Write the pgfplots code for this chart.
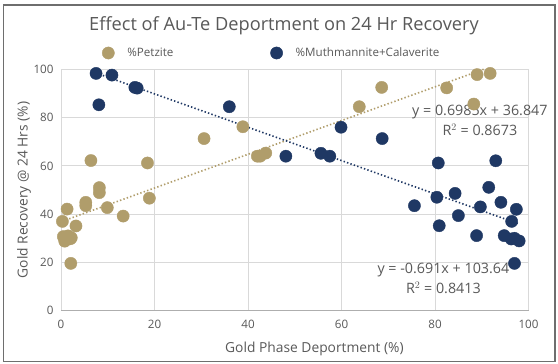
\documentclass[border=0pt]{standalone}
\usepackage{pgfplots}
\pgfplotsset{compat=1.18}
\usepackage{pgfplotstable}
\usepackage{fontspec}
\setmainfont{Open Sans}
\definecolor{tan}{RGB}{176,157,107}
\definecolor{navy}{RGB}{31,56,100}
\definecolor{txt}{RGB}{89,89,89}
\definecolor{grd}{RGB}{217,217,217}
\definecolor{frm}{RGB}{110,110,110}
\pgfplotstableread{
x y
6.4 62.2
18.5 61.2
8.2 51.0
8.2 48.9
5.3 44.9
5.3 43.5
18.9 46.6
9.9 42.7
1.3 42.1
0.3 37.0
3.2 35.1
13.3 39.2
0.5 30.7
1.0 29.5
1.5 31.0
2.0 29.8
0.8 28.8
2.2 30.2
2.1 19.6
30.6 71.3
38.9 76.2
42.0 64.0
42.6 64.0
43.8 65.3
63.8 84.5
68.6 92.5
82.5 92.3
89.0 97.8
91.8 98.3
88.3 85.6
}\petz
\pgfplotstableread{
x y
7.5 98.3
10.9 97.6
8.1 85.3
15.8 92.5
16.3 92.2
36.0 84.5
48.1 64.0
55.6 65.2
57.5 64.0
59.9 76.0
68.7 71.3
80.7 61.2
93.0 62.1
91.5 51.1
84.3 48.6
80.4 47.0
75.6 43.5
89.7 43.0
94.1 44.9
97.4 42.0
85.0 39.4
80.9 35.2
88.9 31.1
94.8 31.1
96.3 29.7
97.0 30.0
98.0 28.9
96.4 37.0
97.0 19.6
}\muth
\begin{document}
\begin{tikzpicture}
\useasboundingbox (0pt,0pt) rectangle (558pt,364pt);
\fill[white] (0pt,0pt) rectangle (558pt,364pt);
\draw[frm,line width=1.5pt] (3.5pt,2.5pt) rectangle (555pt,359pt);
\node[txt,font=\fontsize{18.2}{21}\selectfont] at (284pt,338pt) {Effect of Au-Te Deportment on 24 Hr Recovery};
\begin{axis}[
  at={(61pt,53.3pt)}, anchor=south west,
  scale only axis, width=467.5pt, height=241.4pt,
  xmin=0, xmax=100, ymin=0, ymax=100,
  xtick={0,20,...,100}, ytick={0,20,...,100},
  grid=major, grid style={grd, line width=0.9pt},
  axis lines=left,
  x axis line style={-, draw=grd!80!black, line width=0.9pt},
  y axis line style={draw=none},
  major tick length=0pt,
  clip=false,
  /pgf/number format/assume math mode=true,
  tick label style={txt, font=\fontsize{11.6}{14}\selectfont},
  xticklabel style={yshift=-6pt},
  yticklabel style={xshift=-4pt},
  xlabel={Gold Phase Deportment (\%)},
  ylabel={Gold Recovery @ 24 Hrs (\%)},
  label style={txt, font=\fontsize{13.8}{16}\selectfont},
  xlabel style={at={(axis description cs:0.542,-0.159)}, anchor=center},
  ylabel style={at={(axis description cs:-0.079,0.5)}, anchor=center},
  legend columns=2,
  legend style={at={(axis description cs:0.0877,1.0675)}, anchor=west, draw=none, fill=none,
    inner sep=0pt, font=\fontsize{11.6}{14}\selectfont, text=txt,
    /tikz/every odd column/.append style={column sep=11pt},
    /tikz/every even column/.append style={column sep=95pt}},
  legend image code/.code={\draw[#1] plot coordinates {(6pt,0pt)};},
]
\addplot[only marks, mark=*, mark size=6.1pt, draw=tan, fill=tan] table[x=x,y=y] {\petz};
\addlegendentry{\%Petzite}
\addplot[only marks, mark=*, mark size=6.1pt, draw=navy, fill=navy] table[x=x,y=y] {\muth};
\addlegendentry{\%Muthmannite+Calaverite}
\addplot[forget plot, tan, line width=1.6pt, dash pattern=on 1.4pt off 2.2pt] coordinates {(0.3,37.06) (90.4,100)};
\addplot[forget plot, navy, line width=1.6pt, dash pattern=on 1.4pt off 2.2pt] coordinates {(7.5,98.46) (98.0,35.92)};
\node[txt, font=\fontsize{14.3}{16}\selectfont] at (axis cs:89.6,82.3) {y = 0.6985x + 36.847};
\node[txt, font=\fontsize{14.3}{16}\selectfont] at (axis cs:89.6,74.9) {R$^2$ = 0.8673};
\node[txt, font=\fontsize{14.3}{16}\selectfont] at (axis cs:81.8,16.9) {y = -0.691x + 103.64};
\node[txt, font=\fontsize{14.3}{16}\selectfont] at (axis cs:81.8,9.4) {R$^2$ = 0.8413};
\end{axis}
\end{tikzpicture}
\end{document}
